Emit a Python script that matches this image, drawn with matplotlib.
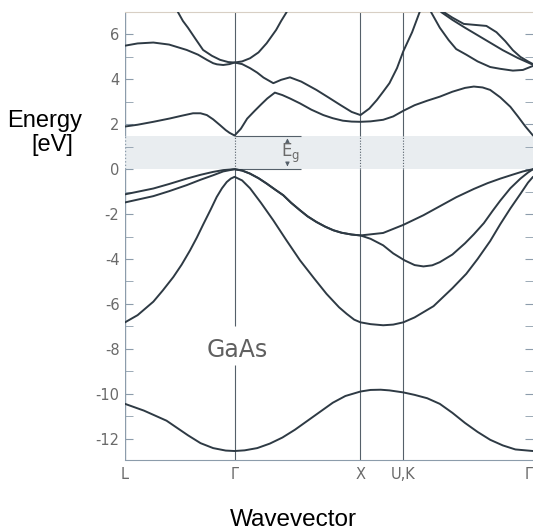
import matplotlib.pyplot as plt
from matplotlib.ticker import MultipleLocator

plt.rcParams['axes.unicode_minus'] = False

# symmetry points along the k-path (path length units)
sym_k = [0.0, 0.87, 1.87, 2.21, 3.24]
sym_labels = ["L", "Γ", "X", "U,K", "Γ"]
E_gap = 1.5

# lowest (s-like) valence band
k_b1 = [0, .15, .33, .5, .6, .7, .8, .87, .95, 1.05, 1.15, 1.25, 1.35, 1.45, 1.55, 1.65, 1.75,
        1.87, 1.95, 2.03, 2.1, 2.21, 2.3, 2.4, 2.5, 2.6, 2.7, 2.8, 2.9, 3.0, 3.1, 3.24]
E_b1 = [-10.45, -10.75, -11.2, -11.85, -12.2, -12.42, -12.53, -12.55, -12.52, -12.42, -12.22,
        -11.95, -11.6, -11.2, -10.8, -10.4, -10.1, -9.9, -9.83, -9.82, -9.85, -9.94, -10.05,
        -10.2, -10.45, -10.85, -11.3, -11.7, -12.05, -12.3, -12.48, -12.55]

# split-off band
k_b2 = [0, .1, .225, .3, .384, .45, .516, .57, .622, .68, .728, .77, .808, .84, .87,
        .93, .993, 1.08, 1.178, 1.28, 1.39, 1.5, 1.6, 1.7, 1.76, 1.82, 1.87,
        1.95, 2.05, 2.13, 2.21, 2.3, 2.45, 2.6, 2.71, 2.8, 2.9, 2.98, 3.06, 3.14, 3.2, 3.24]
E_b2 = [-6.82, -6.5, -5.9, -5.4, -4.8, -4.25, -3.62, -3.05, -2.45, -1.8, -1.24, -0.85, -0.57, -0.42, -0.34,
        -0.5, -0.85, -1.5, -2.28, -3.15, -4.06, -4.85, -5.55, -6.15, -6.44, -6.7, -6.82,
        -6.9, -6.95, -6.92, -6.82, -6.6, -6.1, -5.3, -4.66, -4.0, -3.2, -2.45, -1.75, -1.1, -0.6, -0.34]

# heavy / light hole bands
k_hx = [.87, .93, .99, 1.06, 1.125, 1.19, 1.257, 1.32, 1.39, 1.45, 1.52, 1.59, 1.655, 1.72, 1.8, 1.87]
E_hx = [0, -0.06, -0.19, -0.4, -0.64, -0.9, -1.16, -1.5, -1.83, -2.1, -2.35, -2.56, -2.72, -2.83, -2.91, -2.95]

k_b3 = [0, .225, .35, .49, .6, .7, .78] + k_hx + [1.95, 2.05, 2.13, 2.22, 2.3, 2.37, 2.44, 2.5, 2.6,
                                              2.7, 2.77, 2.85, 2.92, 2.98, 3.06, 3.14, 3.2, 3.24]
E_b3 = [-1.48, -1.2, -0.98, -0.71, -0.47, -0.27, -0.1] + E_hx + [-3.1, -3.39, -3.75, -4.06, -4.27, -4.33,
                                                             -4.28, -4.14, -3.8, -3.3, -2.9, -2.4, -1.85,
                                                             -1.4, -0.85, -0.42, -0.15, 0]

k_b4 = [0, .225, .35, .49, .6, .7, .78] + k_hx + [2.05, 2.21, 2.37, 2.5, 2.63, 2.77, 2.88, 2.98, 3.08, 3.16, 3.24]
E_b4 = [-1.12, -0.86, -0.66, -0.42, -0.25, -0.12, -0.04] + E_hx + [-2.84, -2.48, -2.05, -1.65, -1.25, -0.88,
                                                               -0.62, -0.42, -0.24, -0.1, 0]

# lowest conduction band
k_b5 = [0, .1, .225, .357, .45, .54, .6, .65, .7, .755, .8, .83, .87,
        .92, .97, 1.03, 1.08, 1.13, 1.19, 1.25, 1.31, 1.39, 1.48, 1.575, 1.65, 1.73, 1.8, 1.87,
        1.95, 2.05, 2.13, 2.21, 2.3, 2.4, 2.5, 2.6, 2.7, 2.77, 2.84, 2.9, 2.98, 3.06, 3.12, 3.18, 3.24]
E_b5 = [1.9, 1.98, 2.11, 2.26, 2.38, 2.49, 2.49, 2.41, 2.22, 1.96, 1.74, 1.62, 1.5,
        1.8, 2.25, 2.6, 2.88, 3.15, 3.41, 3.3, 3.15, 2.93, 2.65, 2.41, 2.27, 2.16, 2.12, 2.11,
        2.13, 2.2, 2.35, 2.6, 2.85, 3.05, 3.23, 3.45, 3.62, 3.68, 3.64, 3.53, 3.2, 2.78, 2.35, 1.9, 1.5]

# second conduction band (L -> Gamma -> X, then up the X-U parabola)
k_b6 = [0, .1, .225, .35, .49, .58, .65, .7, .73, .78, .83, .87, .93, .993, 1.05, 1.1, 1.178, 1.24,
        1.31, 1.4, 1.52, 1.62, 1.71, 1.8, 1.87, 1.94, 2.0, 2.05, 2.1, 2.16, 2.21, 2.28, 2.34]
E_b6 = [5.5, 5.6, 5.64, 5.55, 5.31, 5.1, 4.87, 4.72, 4.67, 4.64, 4.68, 4.75, 4.68, 4.5, 4.3, 4.08, 3.83, 3.98,
        4.09, 3.9, 3.53, 3.18, 2.86, 2.55, 2.41, 2.7, 3.08, 3.45, 3.83, 4.5, 5.25, 6.1, 7.0]

# parabola around Gamma
k_b7 = [.42, .46, .5, .56, .62, .69, .755, .82, .87, .93, .993, 1.06, 1.125, 1.2, 1.24, 1.284]
E_b7 = [7.0, 6.6, 6.3, 5.8, 5.31, 5.05, 4.87, 4.77, 4.75, 4.8, 4.94, 5.2, 5.61, 6.2, 6.6, 7.0]

# upper bands on K -> Gamma
k_b8 = [2.43, 2.5, 2.57, 2.63, 2.71, 2.8, 2.9, 2.98, 3.08, 3.16, 3.24]
E_b8 = [7.0, 6.3, 5.75, 5.35, 5.1, 4.8, 4.55, 4.47, 4.39, 4.42, 4.6]
k_b9 = [2.51, 2.6, 2.7, 2.85, 3.0, 3.12, 3.24]
E_b9 = [7.0, 6.65, 6.3, 5.8, 5.3, 4.95, 4.65]
k_b10 = [2.53, 2.6, 2.69, 2.79, 2.87, 2.95, 3.02, 3.08, 3.14, 3.2, 3.24]
E_b10 = [7.0, 6.75, 6.47, 6.42, 6.38, 6.1, 5.7, 5.3, 5.0, 4.8, 4.68]

bands = [(k_b1, E_b1), (k_b2, E_b2), (k_b3, E_b3), (k_b4, E_b4), (k_b5, E_b5),
         (k_b6, E_b6), (k_b7, E_b7), (k_b8, E_b8), (k_b9, E_b9), (k_b10, E_b10)]

line_col = '#2e3a44'
frame_col = '#8c9cab'
text_col = '#6a6a6a'

fig = plt.figure(figsize=(5.33, 5.30), dpi=100)
ax = fig.add_axes([125 / 533, 1 - 460 / 530, 408 / 533, 448 / 530])
ymin, ymax = -12.95, 7.0
ax.set_xlim(sym_k[0], sym_k[-1])
ax.set_ylim(ymin, ymax)

# band gap region
ax.axhspan(0, E_gap, color='#e9edf0', zorder=0, lw=0)

for k, E in bands:
    ax.plot(k, E, color=line_col, lw=1.4, solid_capstyle='round', solid_joinstyle='round', zorder=3)

# vertical lines at the symmetry points, dotted inside the gap
for i, x in enumerate(sym_k[:4]):
    col = frame_col if i == 0 else '#55606a'
    lw = 1.0 if i == 0 else 0.8
    ax.vlines(x, E_gap, ymax, color=col, lw=lw, zorder=2)
    ax.vlines(x, 0, E_gap, color=col, lw=lw, linestyles=(0, (1, 1.5)), zorder=2)
    if x == sym_k[1]:
        ax.vlines(x, -7.0, 0, color=col, lw=lw, zorder=2)
        ax.vlines(x, ymin, -8.7, color=col, lw=lw, zorder=2)
    else:
        ax.vlines(x, ymin, 0, color=col, lw=lw, zorder=2)

# gap markers
ax.hlines([0, E_gap], sym_k[1], 1.40, color='#55606a', lw=0.8, zorder=2)
ax.annotate('', xy=(1.29, E_gap), xytext=(1.29, 1.1),
            arrowprops=dict(arrowstyle='-|>', color='#55606a', lw=0.7, mutation_scale=6))
ax.annotate('', xy=(1.29, 0), xytext=(1.29, 0.32),
            arrowprops=dict(arrowstyle='-|>', color='#55606a', lw=0.7, mutation_scale=6))
ax.text(1.315, 0.72, r'E$_\mathrm{g}$', color=text_col, fontsize=12, ha='center', va='center')

ax.text(0.89, -8.05, 'GaAs', color='#606060', fontsize=17, ha='center', va='center')

for side in ['left', 'right']:
    ax.spines[side].set_visible(False)
ax.spines['bottom'].set_color(frame_col)
ax.spines['top'].set_color('#d8cfc4')

ax.yaxis.set_major_locator(MultipleLocator(2))
ax.yaxis.set_minor_locator(MultipleLocator(1))
ax.tick_params(axis='y', which='both', direction='in', length=6, left=True, right=True,
               color=frame_col, labelcolor=text_col, labelsize=10.5, pad=4)
ax.set_xticks(sym_k, sym_labels)
ax.tick_params(axis='x', length=0, labelcolor=text_col, labelsize=10.5, pad=5)
# last label sits on the right edge of the figure
ax.get_xticklabels()[-1].set_horizontalalignment('right')

fig.text(45 / 533, 1 - 121 / 530, 'Energy', fontsize=17, family='Liberation Sans', ha='center', va='center')
fig.text(52 / 533, 1 - 145 / 530, '[eV]', fontsize=17, family='Liberation Sans', ha='center', va='center')
fig.text(293 / 533, 1 - 520 / 530, 'Wavevector', fontsize=17.5, family='Liberation Sans', ha='center', va='center')

fig.savefig('out.png', dpi=100)
